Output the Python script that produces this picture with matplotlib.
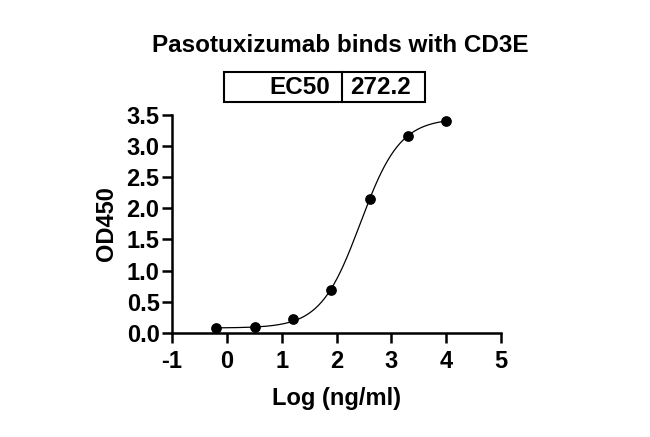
import numpy as np
import matplotlib
matplotlib.use("Agg")
import matplotlib.pyplot as plt
from matplotlib.patches import Rectangle

# Data
log_conc = [-0.194, 0.505, 1.204, 1.903, 2.602, 3.301, 4.000]
od450 = [0.08, 0.09, 0.22, 0.69, 2.15, 3.15, 3.39]
ec50 = 272.2
bottom, top, hill = 0.08, 3.44, 1.2
x_ticks = [-1, 0, 1, 2, 3, 4, 5]
y_ticks = [0.0, 0.5, 1.0, 1.5, 2.0, 2.5, 3.0, 3.5]

plt.rcParams['font.family'] = ['Liberation Sans', 'DejaVu Sans']
plt.rcParams['font.weight'] = 'bold'

fig = plt.figure(figsize=(6.5, 4.37), dpi=100)
ax = fig.add_axes([172/650, 1-333/437, (501-172)/650, (333-114.5)/437])

xc = np.linspace(min(log_conc), max(log_conc), 300)
logec = np.log10(ec50)
yc = bottom + (top - bottom) / (1 + 10 ** ((logec - xc) * hill))
ax.plot(xc, yc, color='black', lw=0.9, zorder=2)
ax.scatter(log_conc, od450, s=45, color='black', zorder=3, clip_on=False)

ax.set_xlim(-1, 5)
ax.set_ylim(0, 3.5)
ax.set_xticks(x_ticks)
ax.set_yticks(y_ticks)
ax.set_xticklabels([str(t) for t in x_ticks])
ax.set_yticklabels([f"{t:.1f}" for t in y_ticks])
for s in ['top', 'right']:
    ax.spines[s].set_visible(False)
for s in ['left', 'bottom']:
    ax.spines[s].set_linewidth(1.8)
ax.tick_params(axis='y', width=1.8, length=7, labelsize=17, pad=2)
ax.tick_params(axis='x', width=1.8, length=7, labelsize=17, pad=5)
for lab in ax.get_xticklabels() + ax.get_yticklabels():
    lab.set_fontweight('bold')

ax.set_xlabel('Log (ng/ml)', fontsize=17, fontweight='bold', labelpad=10)
ax.set_ylabel('OD450', fontsize=17, fontweight='bold', labelpad=6)

fig.text(340/650, 1-45/437, 'Pasotuxizumab binds with CD3E', ha='center', va='center',
         fontsize=17.5, fontweight='bold')

# EC50 table
x0, x1, xd = 224/650, 425/650, 342/650
y0, y1 = 1-102/437, 1-72/437
fig.add_artist(Rectangle((x0, y0), x1-x0, y1-y0, transform=fig.transFigure,
                         fill=False, lw=1.5, edgecolor='black'))
fig.add_artist(plt.Line2D([xd, xd], [y0, y1], transform=fig.transFigure, lw=1.5, color='black'))
fig.text(xd - 12/650, (y0+y1)/2, 'EC50', ha='right', va='center', fontsize=17.5, fontweight='bold')
fig.text(xd + 8/650, (y0+y1)/2, f'{ec50:.1f}', ha='left', va='center', fontsize=17.5, fontweight='bold')

fig.savefig('out.png', dpi=100)
